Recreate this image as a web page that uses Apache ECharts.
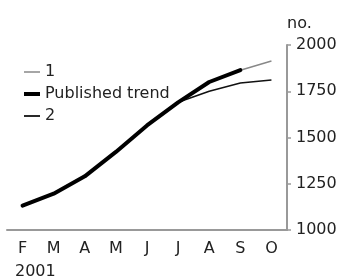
<!DOCTYPE html>
<html>
<head>
<meta charset="utf-8">
<script src="https://cdn.jsdelivr.net/npm/echarts@6/dist/echarts.min.js"></script>
<style>
  html, body { margin: 0; padding: 0; background: #fff; }
  #chart { width: 345px; height: 280px; }
</style>
</head>
<body>
<div id="chart"></div>
<script>
// data
var months = ['F', 'M', 'A', 'M', 'J', 'J', 'A', 'S', 'O'];
var line1 = [1132, 1196, 1290, 1422, 1565, 1690, 1800, 1864, 1913];
var published = [1132, 1196, 1290, 1422, 1565, 1690, 1800, 1864, null];
var line2 = [1132, 1196, 1290, 1422, 1565, 1690, 1750, 1795, 1811];
var yTicks = { min: 1000, max: 2000, step: 250 };

var font = 'DejaVu Sans';
var axisGrey = '#999';

// legend icons: a bar of given thickness inside a 16x10 box
function barIcon(h) {
    var y = (10 - h) / 2;
    return 'path://M0,0M0,' + y + 'h16v' + h + 'h-16zM16,10';
}

var myChart = echarts.init(document.getElementById('chart'));
var option = {
    animation: false,
    textStyle: { fontFamily: font },
    grid: { left: 7, right: 58, top: 45, bottom: 50 },
    legend: {
        orient: 'vertical',
        left: 19,
        top: 59,
        itemWidth: 16,
        itemHeight: 10,
        itemGap: 6,
        itemStyle: { borderWidth: 0 },
        textStyle: { fontFamily: font, fontSize: 16, color: '#222' },
        data: [
            { name: '1', icon: barIcon(1.5) },
            { name: 'Published trend', icon: barIcon(4) },
            { name: '2', icon: barIcon(1.8) }
        ]
    },
    xAxis: {
        type: 'category',
        data: months,
        boundaryGap: true,
        axisLine: { lineStyle: { color: axisGrey, width: 2 } },
        axisTick: { alignWithLabel: true, length: 5, lineStyle: { color: axisGrey, width: 1.5 } },
        axisLabel: { fontFamily: font, fontSize: 16, color: '#222', margin: 11 }
    },
    yAxis: {
        type: 'value',
        position: 'right',
        min: yTicks.min,
        max: yTicks.max,
        interval: yTicks.step,
        name: 'no.',
        nameLocation: 'end',
        nameGap: 13,
        nameTextStyle: { fontFamily: font, fontSize: 16, color: '#222', align: 'left' },
        splitLine: { show: false },
        axisLine: { show: true, lineStyle: { color: axisGrey, width: 2 } },
        axisTick: { show: true, length: 4, lineStyle: { color: axisGrey, width: 1.5 } },
        axisLabel: {
            fontFamily: font, fontSize: 16, color: '#222', margin: 9,
            formatter: function (v) { return String(v); }
        }
    },
    graphic: [{
        type: 'text',
        left: 15,
        top: 264,
        style: { text: '2001', fontFamily: font, fontSize: 16, fill: '#222' }
    }],
    series: [{
        name: '1',
        type: 'line',
        data: line1,
        symbol: 'none',
        z: 1,
        lineStyle: { color: '#888', width: 1.5 },
        itemStyle: { color: '#888' }
    }, {
        name: '2',
        type: 'line',
        data: line2,
        symbol: 'none',
        z: 2,
        lineStyle: { color: '#111', width: 1.6 },
        itemStyle: { color: '#111' }
    }, {
        name: 'Published trend',
        type: 'line',
        data: published,
        symbol: 'none',
        z: 3,
        lineStyle: { color: '#000', width: 4, cap: 'round' },
        itemStyle: { color: '#000' }
    }]
};
myChart.setOption(option);
</script>
</body>
</html>
